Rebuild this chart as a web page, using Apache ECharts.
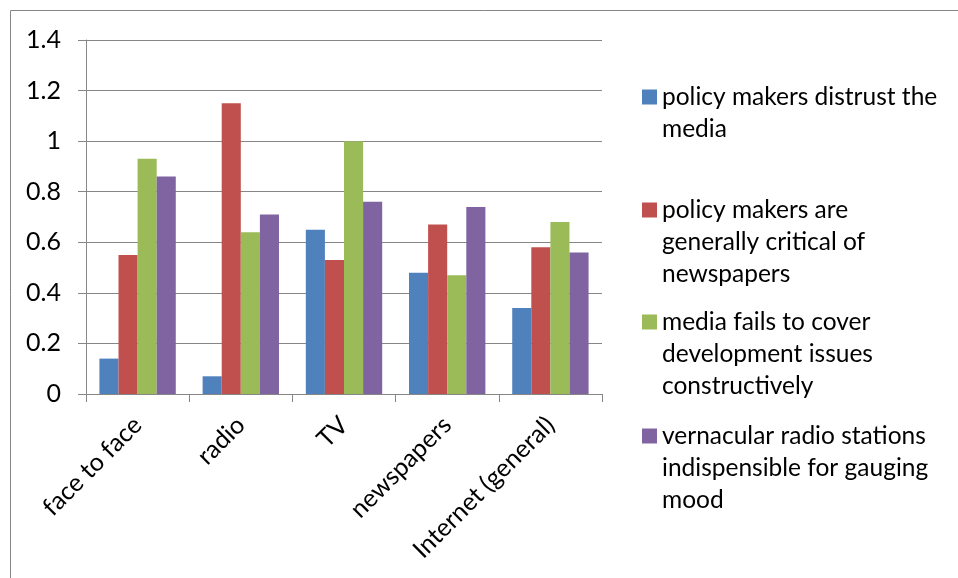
<!DOCTYPE html>
<html>
<head>
<meta charset="utf-8">
<script src="https://cdn.jsdelivr.net/npm/echarts@6/dist/echarts.min.js"></script>
<style>
  html, body { margin: 0; padding: 0; background: #fff; }
  #chart { width: 958px; height: 578px; }
</style>
</head>
<body>
<div id="chart"></div>
<script>
const categories = ['face to face', 'radio', 'TV', 'newspapers', 'Internet (general)'];

const seriesNames = [
  'policy makers distrust the media',
  'policy makers are generally critical of newspapers',
  'media fails to cover development issues constructively',
  'vernacular radio stations indispensible for gauging mood'
];
// legend text broken into lines as it is shown beside the plot
const legendLines = [
  ['policy makers distrust the', 'media'],
  ['policy makers are', 'generally critical of', 'newspapers'],
  ['media fails to cover', 'development issues', 'constructively'],
  ['vernacular radio stations', 'indispensible for gauging', 'mood']
];

const distrustMedia     = [0.14, 0.07, 0.65, 0.48, 0.34];
const criticalOfPapers  = [0.55, 1.15, 0.53, 0.67, 0.58];
const failsToCover      = [0.93, 0.64, 1.00, 0.47, 0.68];
const vernacularRadio   = [0.86, 0.71, 0.76, 0.74, 0.56];

const yTicks = { min: 0, max: 1.4, interval: 0.2 };

const colors = ['#4F81BD', '#C0504D', '#9BBB59', '#8064A2'];
const values = [distrustMedia, criticalOfPapers, failsToCover, vernacularRadio];

const FONT = 'Lato';
const AXIS_FS = 25;
const LEGEND_FS = 24.5;
const LINE_H = 32;
const legendFirstLineY = [97, 210, 322, 436];

const chart = echarts.init(document.getElementById('chart'), null, { renderer: 'canvas' });

// One legend block per series. The text block is centred on the icon,
// so blank lines are put in front to bring the first line level with it.
const legends = seriesNames.map((name, i) => {
  const n = legendLines[i].length;
  const totalLines = 2 * n - 1;
  return {
    data: [name],
    orient: 'vertical',
    left: 642,
    top: legendFirstLineY[i] - totalLines * LINE_H / 2,
    padding: 0,
    itemWidth: 15,
    itemHeight: 15,
    itemGap: 0,
    selectedMode: false,
    icon: 'rect',
    formatter: () => '\n'.repeat(n - 1) + legendLines[i].join('\n'),
    textStyle: {
      fontFamily: FONT,
      fontSize: LEGEND_FS,
      color: '#000',
      lineHeight: LINE_H
    }
  };
});

chart.setOption({
  animation: false,
  color: colors,
  graphic: [{
    type: 'rect',
    shape: { x: 10.5, y: 10.5, width: 1000, height: 1000 },
    style: { fill: 'none', stroke: '#868686', lineWidth: 1 },
    silent: true
  }],
  legend: legends,
  grid: { left: 86, top: 40, width: 516, height: 354, containLabel: false },
  xAxis: {
    type: 'category',
    data: categories,
    axisLine: { lineStyle: { color: '#868686', width: 1 } },
    axisTick: { show: true, length: 8, lineStyle: { color: '#868686' } },
    axisLabel: {
      rotate: 45,
      interval: 0,
      margin: 27,
      fontFamily: FONT,
      fontSize: AXIS_FS,
      color: '#000'
    },
    splitLine: { show: false }
  },
  yAxis: {
    type: 'value',
    min: yTicks.min,
    max: yTicks.max,
    interval: yTicks.interval,
    axisLine: { show: true, lineStyle: { color: '#868686', width: 1 } },
    axisTick: { show: true, length: 8, lineStyle: { color: '#868686' } },
    axisLabel: {
      margin: 25,
      fontFamily: FONT,
      fontSize: AXIS_FS,
      color: '#000',
      formatter: v => String(Math.round(v * 10) / 10)
    },
    splitLine: { show: true, lineStyle: { color: '#868686', width: 1 } }
  },
  series: values.map((data, i) => ({
    name: seriesNames[i],
    type: 'bar',
    data: data,
    barGap: '0%',
    barCategoryGap: '26%',
    itemStyle: { color: colors[i] }
  }))
});
</script>
</body>
</html>
